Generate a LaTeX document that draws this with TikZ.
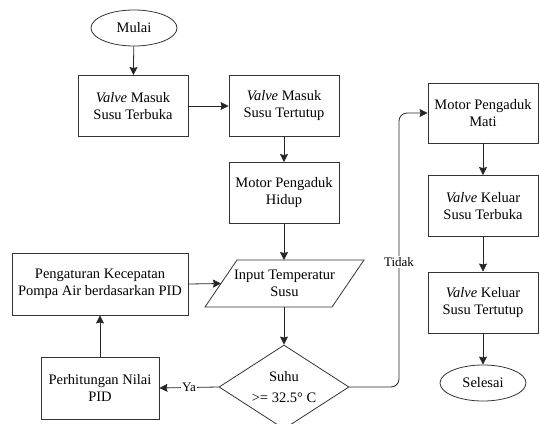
\documentclass[tikz,border=0pt]{standalone}
\usepackage{fontspec}
\setmainfont{Liberation Serif}
\newfontfamily\tnr{Liberation Serif}
\usetikzlibrary{shapes.geometric,arrows.meta}
\begin{document}
\begin{tikzpicture}[x=1pt,y=-1pt,
  txt/.style={align=center,font=\tnr\fontsize{14.5}{17}\selectfont,inner sep=0pt},
  box/.style={txt,draw=black!80,line width=0.9pt,rectangle,minimum width=110pt,minimum height=61pt},
  term/.style={txt,draw=black!80,line width=0.8pt,ellipse,minimum width=86pt,minimum height=36pt},
  dec/.style={align=center,font=\tnr\fontsize{14.5}{21}\selectfont,draw=black!80,line width=0.8pt,diamond,shape aspect=1.55,minimum width=130pt,minimum height=84pt,inner sep=0pt},
  flow/.style={draw=black!85,line width=0.8pt,-{Stealth[length=8pt,width=8pt,inset=1pt]}},
  lbl/.style={fill=white,inner sep=1pt,font=\tnr\fontsize{13}{15}\selectfont}]
\useasboundingbox (0,0) rectangle (540,423);

\node[term] (mulai) at (134,28) {Mulai};
\node[box] (b1) at (133,106) {\textit{Valve} Masuk\\Susu Terbuka};
\node[box] (b2) at (284,106) {\textit{Valve} Masuk\\Susu Tertutup};
\node[box] (b3) at (284,193) {Motor Pengaduk\\Hidup};

\draw[draw=black!80,line width=0.8pt] (237,260) -- (364,260) -- (332,307) -- (205,307) -- cycle;
\node[txt] (para) at (284.5,283.5) {Input Temperatur\\Susu};
\coordinate (paraT) at (284,260);
\coordinate (paraB) at (284,307);
\coordinate (paraL) at (221,283.5);

\node[dec] (dia) at (284,387) {Suhu\\>= 32.5° C};

\node[box,minimum width=176pt,minimum height=62pt] (peng) at (100,284) {Pengaturan Kecepatan\\Pompa Air berdasarkan PID};
\node[box,minimum width=118pt,minimum height=62pt] (perh) at (100,388) {Perhitungan Nilai\\PID};

\node[box,minimum height=60pt] (mati) at (483,113) {Motor Pengaduk\\Mati};
\node[box] (k1) at (483,206) {\textit{Valve} Keluar\\Susu Terbuka};
\node[box] (k2) at (483,302.5) {\textit{Valve} Keluar\\Susu Tertutup};
\node[term] (selesai) at (483,383) {Selesai};

\coordinate (tx) at (399,0);

\draw[flow] (mulai) -- (b1);
\draw[flow] (b1) -- (b2);
\draw[flow] (b2) -- (b3);
\draw[flow] (b3) -- (paraT);
\draw[flow] (paraB) -- (dia.north);
\draw[flow] (dia.west) -- node[lbl,pos=0.5]{Ya} (perh.east);
\draw[flow] (perh) -- (peng);
\draw[flow] (peng.east) -- (paraL);
\draw[flow,rounded corners=8pt] (dia.east) -- (dia.east -| tx) -- (tx |- mati.west) -- (mati.west);
\node[lbl] (tidak) at (399,262) {Tidak};
\draw[flow] (mati) -- (k1);
\draw[flow] (k1) -- (k2);
\draw[flow] (k2) -- (selesai);
\end{tikzpicture}
\end{document}
